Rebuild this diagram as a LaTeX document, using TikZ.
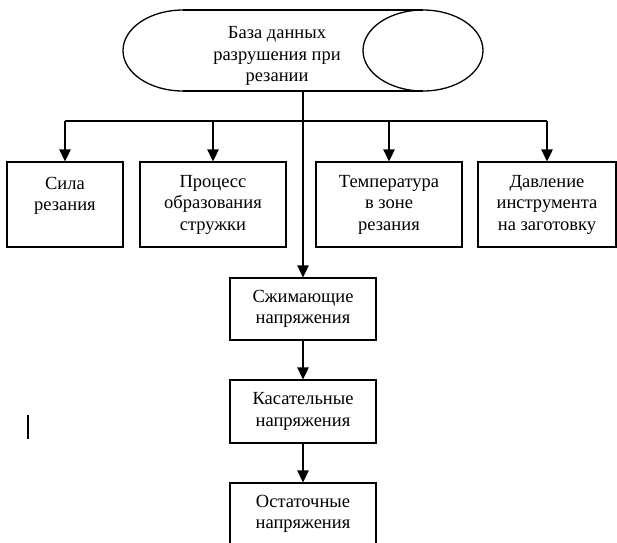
\documentclass[tikz,border=0pt]{standalone}
\usepackage{fontspec}
\setmainfont{Liberation Serif}
\usetikzlibrary{arrows.meta}
\tikzset{
  txt/.style={font=\fontsize{18.5}{21.5}\selectfont, align=center, inner sep=0pt},
  box/.style={txt, draw, line width=1.3pt, rectangle, minimum height=#1},
  box/.default=62pt,
  link/.style={line width=1.3pt},
  arr/.style={link, -{Triangle[length=12pt,width=11.5pt]}}
}
\begin{document}
\begin{tikzpicture}[x=1pt,y=-1pt]
\clip (0,0) rectangle (617,542);
\fill[white] (0,0) rectangle (617,542);

% database (horizontal cylinder)
\draw[link] (183,10) -- (423,10);
\draw[link] (183,91) -- (423,91);
\draw[link] (183,10) arc (270:90:60 and 40.5);
\draw[link] (423,50.5) ellipse (60 and 40.5);
\node[txt] (db) at (277,56) {База данных\\разрушения при\\резании};
\coordinate (dbbase) at (303,91);
\coordinate (bus) at (303,121);

% factor boxes
\node[box=85pt, minimum width=116pt] (f1) at (65,204.5) {Сила\\резания\\~};
\node[box=85pt, minimum width=146pt] (f2) at (213,204.5) {Процесс\\образования\\стружки};
\node[box=85pt, minimum width=146pt] (f3) at (389,204.5) {Температура\\в зоне\\резания};
\node[box=85pt, minimum width=138pt] (f4) at (547,204.5) {Давление\\инструмента\\на заготовку};

% stress chain
\node[box=62pt, minimum width=146pt] (s1) at (303,309) {Сжимающие\\напряжения};
\node[box=63pt, minimum width=146pt] (s2) at (303,411.5) {Касательные\\напряжения};
\node[box=62pt, minimum width=146pt] (s3) at (303,514) {Остаточные\\напряжения};

% connectors
\draw[link] (f1.north|-bus) -- (f4.north|-bus);
\draw[arr] (dbbase) -- (s1.north);
\draw[arr] (f1.north|-bus) -- (f1.north);
\draw[arr] (f2.north|-bus) -- (f2.north);
\draw[arr] (f3.north|-bus) -- (f3.north);
\draw[arr] (f4.north|-bus) -- (f4.north);
\draw[arr] (s1.south) -- (s2.north);
\draw[arr] (s2.south) -- (s3.north);

% text cursor mark
\draw[line width=1.3pt] (28,415) -- (28,439);
\end{tikzpicture}
\end{document}
